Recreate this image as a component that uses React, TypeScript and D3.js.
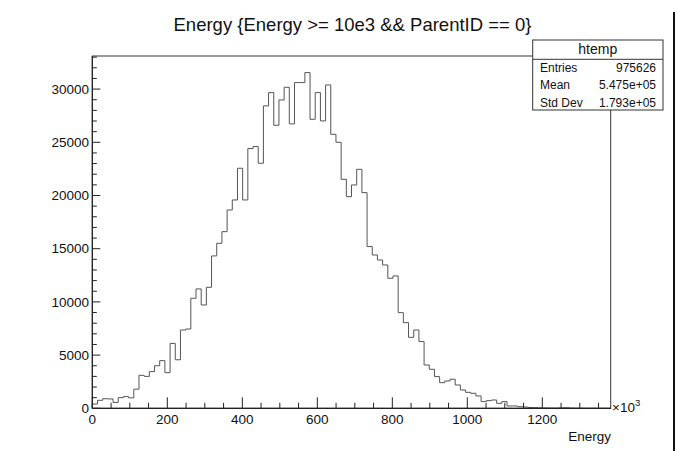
import React from "react";
import * as d3 from "d3";

// ---- data ----
const xMin = 0;
const xMax = 1382.4; // ×10^3
const nBins = 100;
const counts: number[] = [
  400, 750, 900, 880, 550, 1000, 1100, 980, 1800, 3100,
  3000, 3450, 4000, 4480, 3350, 6100, 4560, 7360, 7450, 10340,
  11220, 9710, 11370, 14320, 15510, 16600, 18640, 19580, 22560, 19580,
  24410, 24600, 23030, 28420, 29670, 26600, 28980, 30170, 26730, 30610,
  30610, 31550, 27160, 29670, 27010, 30390, 25750, 25000, 21520, 19890,
  20990, 22460, 20270, 15200, 14410, 13940, 13470, 12220, 12440, 8990,
  8050, 6670, 7360, 6270, 4070, 3670, 2980, 2410, 2570, 2730,
  2190, 1720, 1500, 1410, 1160, 630, 720, 780, 470, 630,
  220, 220, 150, 120, 80, 60, 40, 30, 20, 15,
  40, 50, 20, 10, 8, 5, 5, 3, 2, 0,
];
const yMax = 33110;
const xMajorTicks = [0, 200, 400, 600, 800, 1000, 1200];
const yMajorTicks = [0, 5000, 10000, 15000, 20000, 25000, 30000];
const title = "Energy {Energy >= 10e3 && ParentID == 0}";
const xTitle = "Energy";
const statsName = "htemp";
const statsRows: [string, string][] = [
  ["Entries", "975626"],
  ["Mean", "5.475e+05"],
  ["Std Dev", "1.793e+05"],
];

const W = 677;
const H = 451;
const FONT = "'Liberation Sans', Arial, Helvetica, sans-serif";

export default function App() {
  const x = d3.scaleLinear().domain([xMin, xMax]).range([92.33, 610.7]);
  const y = d3.scaleLinear().domain([0, yMax]).range([408.3, 56]);
  const bw = (xMax - xMin) / nBins;

  const pts: [number, number][] = [[xMin, 0]];
  counts.forEach((c, i) => {
    pts.push([xMin + i * bw, c]);
    pts.push([xMin + (i + 1) * bw, c]);
  });
  pts.push([xMax, 0]);
  const line = d3
    .line<[number, number]>()
    .x((d) => x(d[0]))
    .y((d) => y(d[1]));

  const xMinor = d3.range(0, xMax, 50).filter((v) => !xMajorTicks.includes(v));
  const yMinor = d3.range(0, yMax, 1000).filter((v) => !yMajorTicks.includes(v));

  const [x0, x1] = x.range();
  const [yb, yt] = y.range();

  return (
    <svg
      width={W}
      height={H}
      style={{ position: "fixed", left: 0, top: 0, background: "#fff" }}
      fontFamily={FONT}
    >
      <rect x={0} y={0} width={W} height={H} fill="#fff" />
      {/* title */}
      <text x={352.5} y={31} textAnchor="middle" fontSize={18.5} fill="#111">
        {title}
      </text>

      {/* histogram */}
      <path d={line(pts) || ""} fill="none" stroke="#555" strokeWidth={1} />

      {/* frame */}
      <rect x={x0} y={yt} width={x1 - x0} height={yb - yt} fill="none" stroke="#333" strokeWidth={1} />

      {/* x axis ticks */}
      {xMajorTicks.map((v) => (
        <g key={"xM" + v}>
          <line x1={x(v)} x2={x(v)} y1={yb} y2={yb - 11} stroke="#222" />
          <text x={x(v)} y={424} textAnchor="middle" fontSize={13.5} fill="#111">
            {v}
          </text>
        </g>
      ))}
      {xMinor.map((v) => (
        <line key={"xm" + v} x1={x(v)} x2={x(v)} y1={yb} y2={yb - 5.5} stroke="#222" />
      ))}
      <line x1={x0} x2={x1} y1={yb} y2={yb} stroke="#222" strokeWidth={1.2} />
      <text x={612} y={412} fontSize={13.5} fill="#111">
        ×10
        <tspan fontSize={9.5} dy={-6}>3</tspan>
      </text>
      <text x={611} y={441} textAnchor="end" fontSize={13.5} fill="#111">
        {xTitle}
      </text>

      {/* y axis ticks */}
      {yMajorTicks.map((v) => (
        <g key={"yM" + v}>
          <line x1={x0} x2={x0 + 8} y1={y(v)} y2={y(v)} stroke="#222" />
          <text x={89} y={y(v) + 4.8} textAnchor="end" fontSize={13.5} fill="#111">
            {v}
          </text>
        </g>
      ))}
      {yMinor.map((v) => (
        <line key={"ym" + v} x1={x0} x2={x0 + 4.5} y1={y(v)} y2={y(v)} stroke="#222" />
      ))}
      <line x1={x0} x2={x0} y1={yb} y2={yt} stroke="#222" strokeWidth={1.2} />

      {/* stats box */}
      <rect x={532.7} y={40} width={130.3} height={70} fill="#fff" stroke="#333" strokeWidth={1} />
      <line x1={532.7} x2={663} y1={59.3} y2={59.3} stroke="#333" />
      <text x={597.8} y={54} textAnchor="middle" fontSize={14} fill="#111">
        {statsName}
      </text>
      {statsRows.map(([k, v], i) => (
        <g key={k}>
          <text x={540} y={71.5 + i * 17.7} fontSize={12} fill="#111">
            {k}
          </text>
          <text x={656} y={71.5 + i * 17.7} textAnchor="end" fontSize={12} fill="#111">
            {v}
          </text>
        </g>
      ))}

      {/* right canvas edge */}
      <line x1={674} x2={674} y1={12} y2={H} stroke="#111" strokeWidth={2} />
    </svg>
  );
}
